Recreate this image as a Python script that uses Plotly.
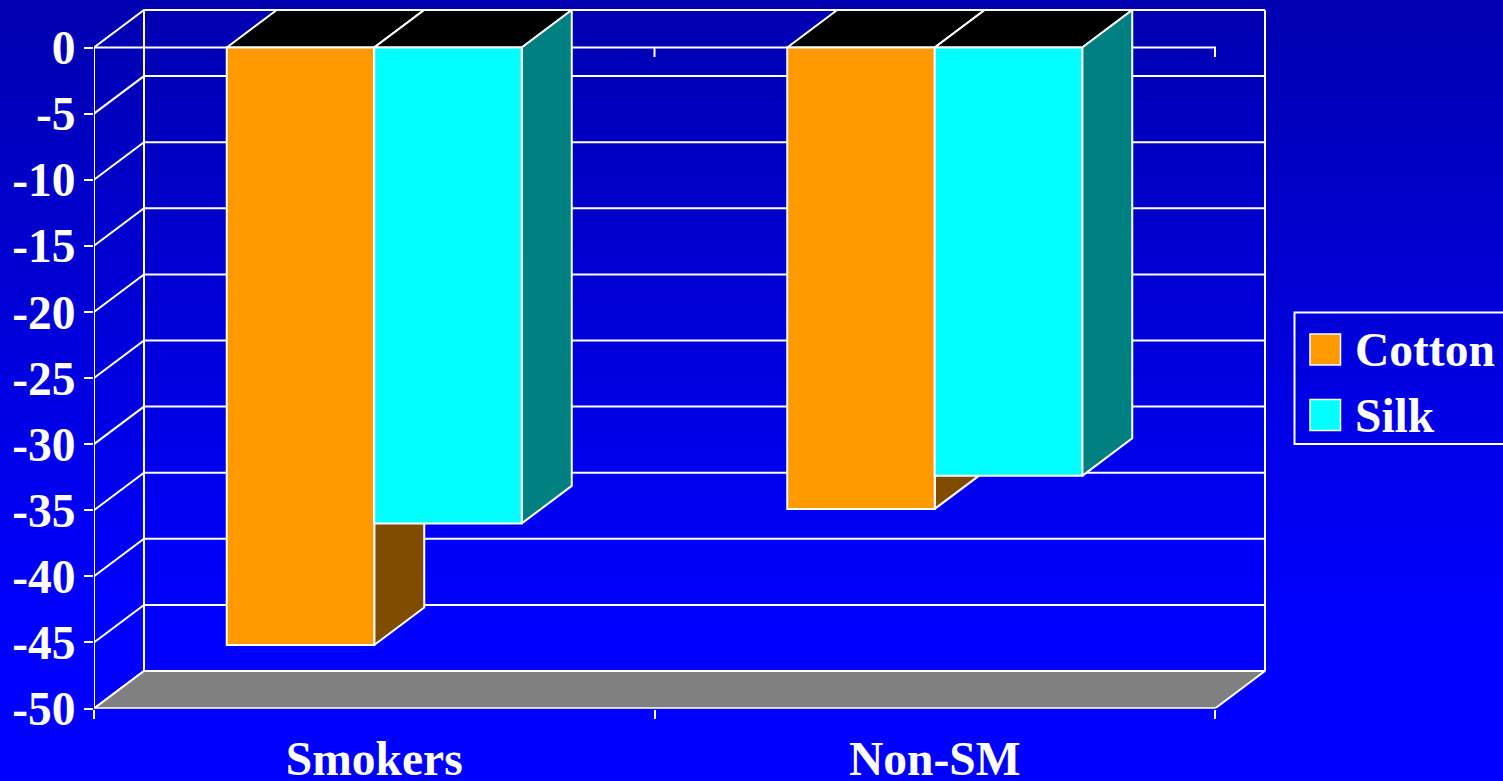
import plotly.graph_objects as go

# Chart data
categories = ["Smokers", "Non-SM"]
cotton = [-45.2, -34.9]
silk = [-36.0, -32.4]
series_names = ["Cotton", "Silk"]
y_ticks = [0, -5, -10, -15, -20, -25, -30, -35, -40, -45, -50]

# Page and plot-area geometry, in pixels
W, H = 1503, 781
LEFT, RIGHT = 94, 1215
TOP, BOTTOM = 47.5, 708.5
DEPTH_PX = (50, 37.5)
EDGE_RIGHT, EDGE_TOP = 1290, 2  # the subplot stretches past the walls so nothing is clipped

X_SPAN = (0, 2)
Y_SPAN = (-50, 0)
px_x = (RIGHT - LEFT) / (X_SPAN[1] - X_SPAN[0])
px_y = (BOTTOM - TOP) / (Y_SPAN[1] - Y_SPAN[0])
DX, DY = DEPTH_PX[0] / px_x, DEPTH_PX[1] / px_y  # depth offset in data units
BAR_W = 147.5 / px_x
X_RANGE = [X_SPAN[0], X_SPAN[0] + (EDGE_RIGHT - LEFT) / px_x]
Y_RANGE = [Y_SPAN[0], Y_SPAN[0] + (BOTTOM - EDGE_TOP) / px_y]

WHITE = "#ffffff"
FONT = dict(family="Liberation Serif", size=47.5, color=WHITE)
COTTON = dict(front="#ff9900", side="#7f4c00", top="#000000")
SILK = dict(front="#00ffff", side="#008080", top="#000000")
AX = dict(xaxis="x2", yaxis="y2")

fig = go.Figure()

# Vertical blue gradient behind everything, on its own full-page axes
fig.add_trace(go.Heatmap(
    z=[[i] for i in range(256)], x=[0], y=list(range(256)),
    colorscale=[[0, "#0000ff"], [0.2, "#0000ff"], [1, "#0000b0"]],
    showscale=False, hoverinfo="skip", xaxis="x", yaxis="y",
))


def poly(xs, ys, fill, z, width=2):
    fig.add_trace(go.Scatter(
        x=xs, y=ys, mode="lines", fill="toself", fillcolor=fill,
        line=dict(color=WHITE, width=width), cliponaxis=False,
        showlegend=False, hoverinfo="skip", zorder=z, **AX,
    ))


def lines(xs, ys, z, width=2):
    fig.add_trace(go.Scatter(
        x=xs, y=ys, mode="lines", line=dict(color=WHITE, width=width),
        cliponaxis=False, showlegend=False, hoverinfo="skip",
        connectgaps=False, zorder=z, **AX,
    ))


# Back wall, left wall and their grid lines
wx, wy = [], []
for v in y_ticks:
    wx += [X_SPAN[0], X_SPAN[0] + DX, X_SPAN[1] + DX, None]
    wy += [v, v + DY, v + DY, None]
for x in (X_SPAN[0] + DX, X_SPAN[1] + DX):
    wx += [x, x, None]
    wy += [Y_SPAN[1] + DY, Y_SPAN[0] + DY, None]
lines(wx, wy, 0)

# Floor
poly([X_SPAN[0], X_SPAN[1], X_SPAN[1] + DX, X_SPAN[0] + DX, X_SPAN[0]],
     [Y_SPAN[0], Y_SPAN[0], Y_SPAN[0] + DY, Y_SPAN[0] + DY, Y_SPAN[0]],
     "#808080", 1)

# Axis lines: value axis, floor edge, and the zero line with its downward ticks
tick = 9.5 / px_y
lines([X_SPAN[0], X_SPAN[0], None, X_SPAN[0], X_SPAN[1], None,
       X_SPAN[0], X_SPAN[1], X_SPAN[1], None, 1, 1],
      [Y_SPAN[1], Y_SPAN[0], None, Y_SPAN[0], Y_SPAN[0], None,
       0, 0, -tick, None, 0, -tick], 1, width=2)

# Bars: depth faces first, then the front face, one series at a time
centers = [0.5, 1.5]
z = 2
for name, values, colors, offset in (
    (series_names[0], cotton, COTTON, -BAR_W),
    (series_names[1], silk, SILK, 0),
):
    for c, v in zip(centers, values):
        x0, x1 = c + offset, c + offset + BAR_W
        poly([x0, x1, x1 + DX, x0 + DX, x0], [0, 0, DY, DY, 0], colors["top"], z)
        poly([x1, x1 + DX, x1 + DX, x1, x1], [0, DY, v + DY, v, 0], colors["side"], z)
    fig.add_trace(go.Bar(
        x=centers, y=values, name=name, width=BAR_W, offset=offset,
        marker=dict(color=colors["front"], line=dict(color=WHITE, width=2)),
        cliponaxis=False, showlegend=False, zorder=z + 1, **AX,
    ))
    z += 2


# Legend box, running off the right edge of the page
def fx(p):
    return p / W


def fy(p):
    return 1 - p / H


shapes = [dict(type="rect", xref="paper", yref="paper",
               x0=fx(1294.5), x1=fx(1530), y0=fy(312.5), y1=fy(444),
               line=dict(color=WHITE, width=2), fillcolor="rgba(0,0,0,0)")]
annotations = []
for name, color, top, center in (
    (series_names[0], COTTON["front"], 334, 350),
    (series_names[1], SILK["front"], 399.5, 416),
):
    shapes.append(dict(type="rect", xref="paper", yref="paper",
                       x0=fx(1310), x1=fx(1340.5), y0=fy(top), y1=fy(top + 31),
                       line=dict(color=WHITE, width=1.5), fillcolor=color))
    annotations.append(dict(
        text=f"<b>{name}</b>", xref="paper", yref="paper", x=fx(1352.5), y=fy(center),
        xanchor="left", yanchor="middle", showarrow=False, font=FONT,
    ))

fig.update_layout(
    template="none",
    width=W, height=H, margin=dict(l=0, r=0, t=0, b=0, pad=0),
    paper_bgcolor="#0000ff", plot_bgcolor="rgba(0,0,0,0)",
    barmode="overlay", showlegend=False, shapes=shapes, annotations=annotations,
    font=dict(family="Liberation Serif", color=WHITE),
    xaxis=dict(domain=[0, 1], visible=False, fixedrange=True, automargin=False),
    yaxis=dict(domain=[0, 1], visible=False, fixedrange=True, automargin=False),
    xaxis2=dict(
        domain=[fx(LEFT), fx(EDGE_RIGHT)], range=X_RANGE, anchor="y2",
        automargin=False, tickmode="array", tickvals=centers,
        ticktext=[f"<b>{c}</b>" for c in categories],
        ticks="", tickfont=FONT, showgrid=False, zeroline=False, showline=False,
        ticklabelstandoff=18, fixedrange=True,
        minor=dict(tickmode="array", tickvals=[0, 1, 2], ticks="outside",
                   ticklen=9, tickwidth=2, tickcolor=WHITE, showgrid=False),
    ),
    yaxis2=dict(
        domain=[fy(BOTTOM), fy(EDGE_TOP)], range=Y_RANGE, anchor="x2",
        automargin=False, tickmode="array", tickvals=y_ticks,
        ticktext=[f"<b>{v}</b>" for v in y_ticks],
        ticks="outside", ticklen=9, tickwidth=2, tickcolor=WHITE,
        tickfont=FONT, showgrid=False, zeroline=False, showline=False,
        ticklabelstandoff=-1, fixedrange=True,
    ),
)

fig.write_html("out.html", config=dict(displayModeBar=False))
